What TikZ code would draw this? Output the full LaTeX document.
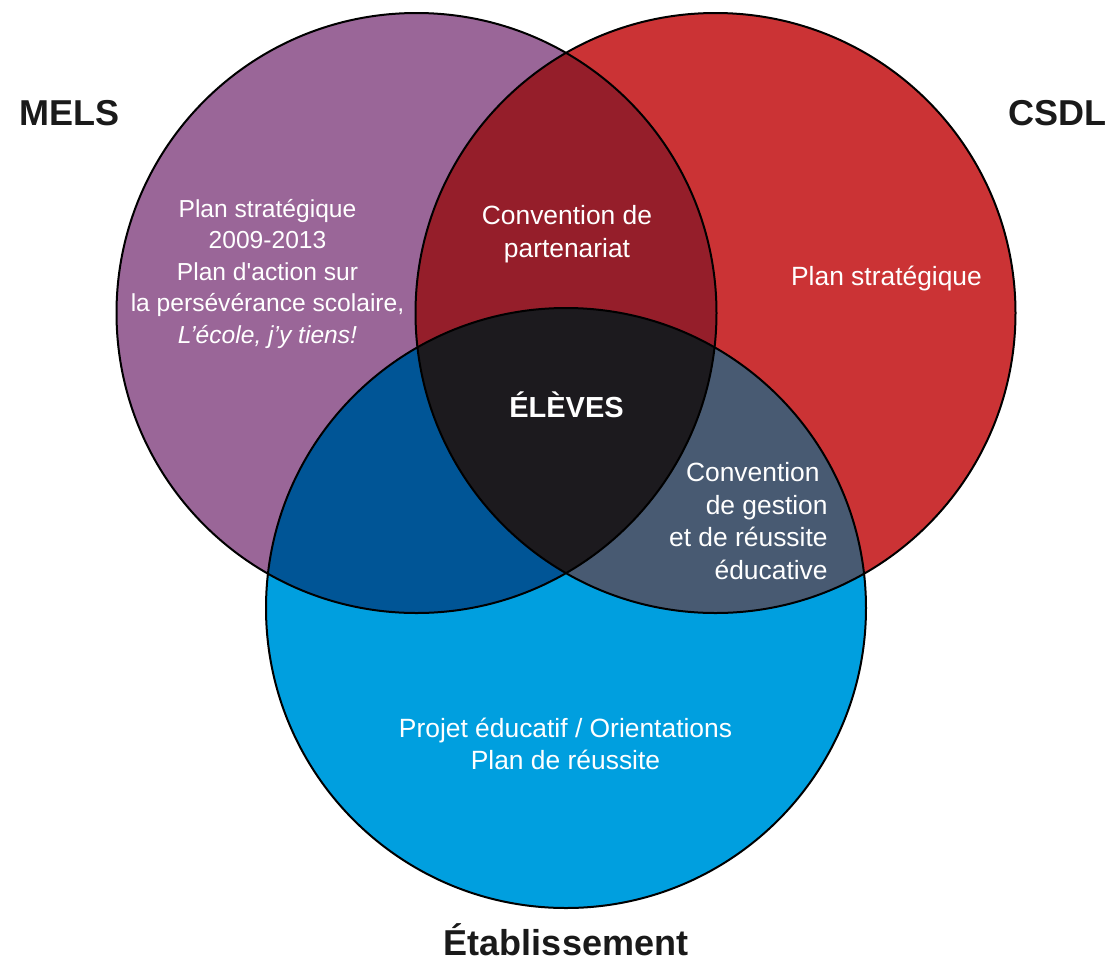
\documentclass[tikz,border=0pt]{standalone}
\usepackage{fontspec}
\setmainfont{Liberation Sans}
\usepackage{tikz}

\definecolor{melspurple}{HTML}{9A6698}
\definecolor{csdlred}{HTML}{CB3335}
\definecolor{etabblue}{HTML}{009FDF}
\definecolor{mcred}{HTML}{951E2A}
\definecolor{mbblue}{HTML}{005596}
\definecolor{cbslate}{HTML}{485A72}
\definecolor{corebl}{HTML}{1C1A1E}
\definecolor{inkgrey}{HTML}{1A1A1A}

\begin{document}
\begin{tikzpicture}[x=0.5pt, y=-0.5pt,
  regiontext/.style={text=white, inner sep=0pt, align=center,
    font=\fontsize{13.2}{16.25}\selectfont},
  setname/.style={text=inkgrey, inner sep=0pt,
    font=\fontsize{18}{18}\selectfont\bfseries},
  rim/.style={draw=black, line width=1pt}]

\def \rad{300}
\def \xmels{416.5}
\def \xcsdl{715.5}
\def \ytop{313}
\def \xetab{566}
\def \yetab{608}

\useasboundingbox (0,0) rectangle (1110,960);

% plain discs
\fill[melspurple] (\xmels, \ytop)  circle[radius=\rad];
\fill[csdlred]    (\xcsdl, \ytop)  circle[radius=\rad];
\fill[etabblue]   (\xetab, \yetab) circle[radius=\rad];

% overlaps of two
\begin{scope}
  \clip (\xmels, \ytop) circle[radius=\rad];
  \fill[mcred]  (\xcsdl, \ytop)  circle[radius=\rad];
  \fill[mbblue] (\xetab, \yetab) circle[radius=\rad];
\end{scope}
\begin{scope}
  \clip (\xcsdl, \ytop) circle[radius=\rad];
  \fill[cbslate] (\xetab, \yetab) circle[radius=\rad];
\end{scope}

% overlap of three
\begin{scope}
  \clip (\xmels, \ytop) circle[radius=\rad];
  \clip (\xcsdl, \ytop) circle[radius=\rad];
  \fill[corebl] (\xetab, \yetab) circle[radius=\rad];
\end{scope}

% rims
\draw[rim] (\xmels, \ytop)  circle[radius=\rad];
\draw[rim] (\xcsdl, \ytop)  circle[radius=\rad];
\draw[rim] (\xetab, \yetab) circle[radius=\rad];

% text from top to bottom
\node[regiontext, font=\fontsize{12.3}{15.75}\selectfont] (melsplan) at (267.5, 273.5)
  {Plan stratégique\\2009-2013\\Plan d\textquotesingle action sur\\la persévérance scolaire,\\\textit{L’école, j’y tiens!}};
\node[regiontext] (partenariat) at (567, 234) {Convention de\\partenariat};
\node[regiontext] (csdlplan) at (886.5, 279) {Plan stratégique};
\node[regiontext, font=\fontsize{14.5}{14.5}\selectfont\bfseries] (eleves) at (566.5, 405) {ÉLÈVES};
\node[regiontext, align=right, anchor=east] (gestion) at (828, 521)
  {Convention\hspace*{4pt}\\de gestion\\et de réussite\hspace*{5.5pt}\\éducative};
\node[regiontext] (projet) at (565.5, 744) {Projet éducatif / Orientations\\Plan de réussite};

% set names
\node[setname, anchor=base] (mels) at (70, 125)     {MELS};
\node[setname, anchor=base] (csdl) at (1057.5, 125) {CSDL};
\node[setname, anchor=base] (etab) at (566, 955)    {Établissement};

\end{tikzpicture}
\end{document}
